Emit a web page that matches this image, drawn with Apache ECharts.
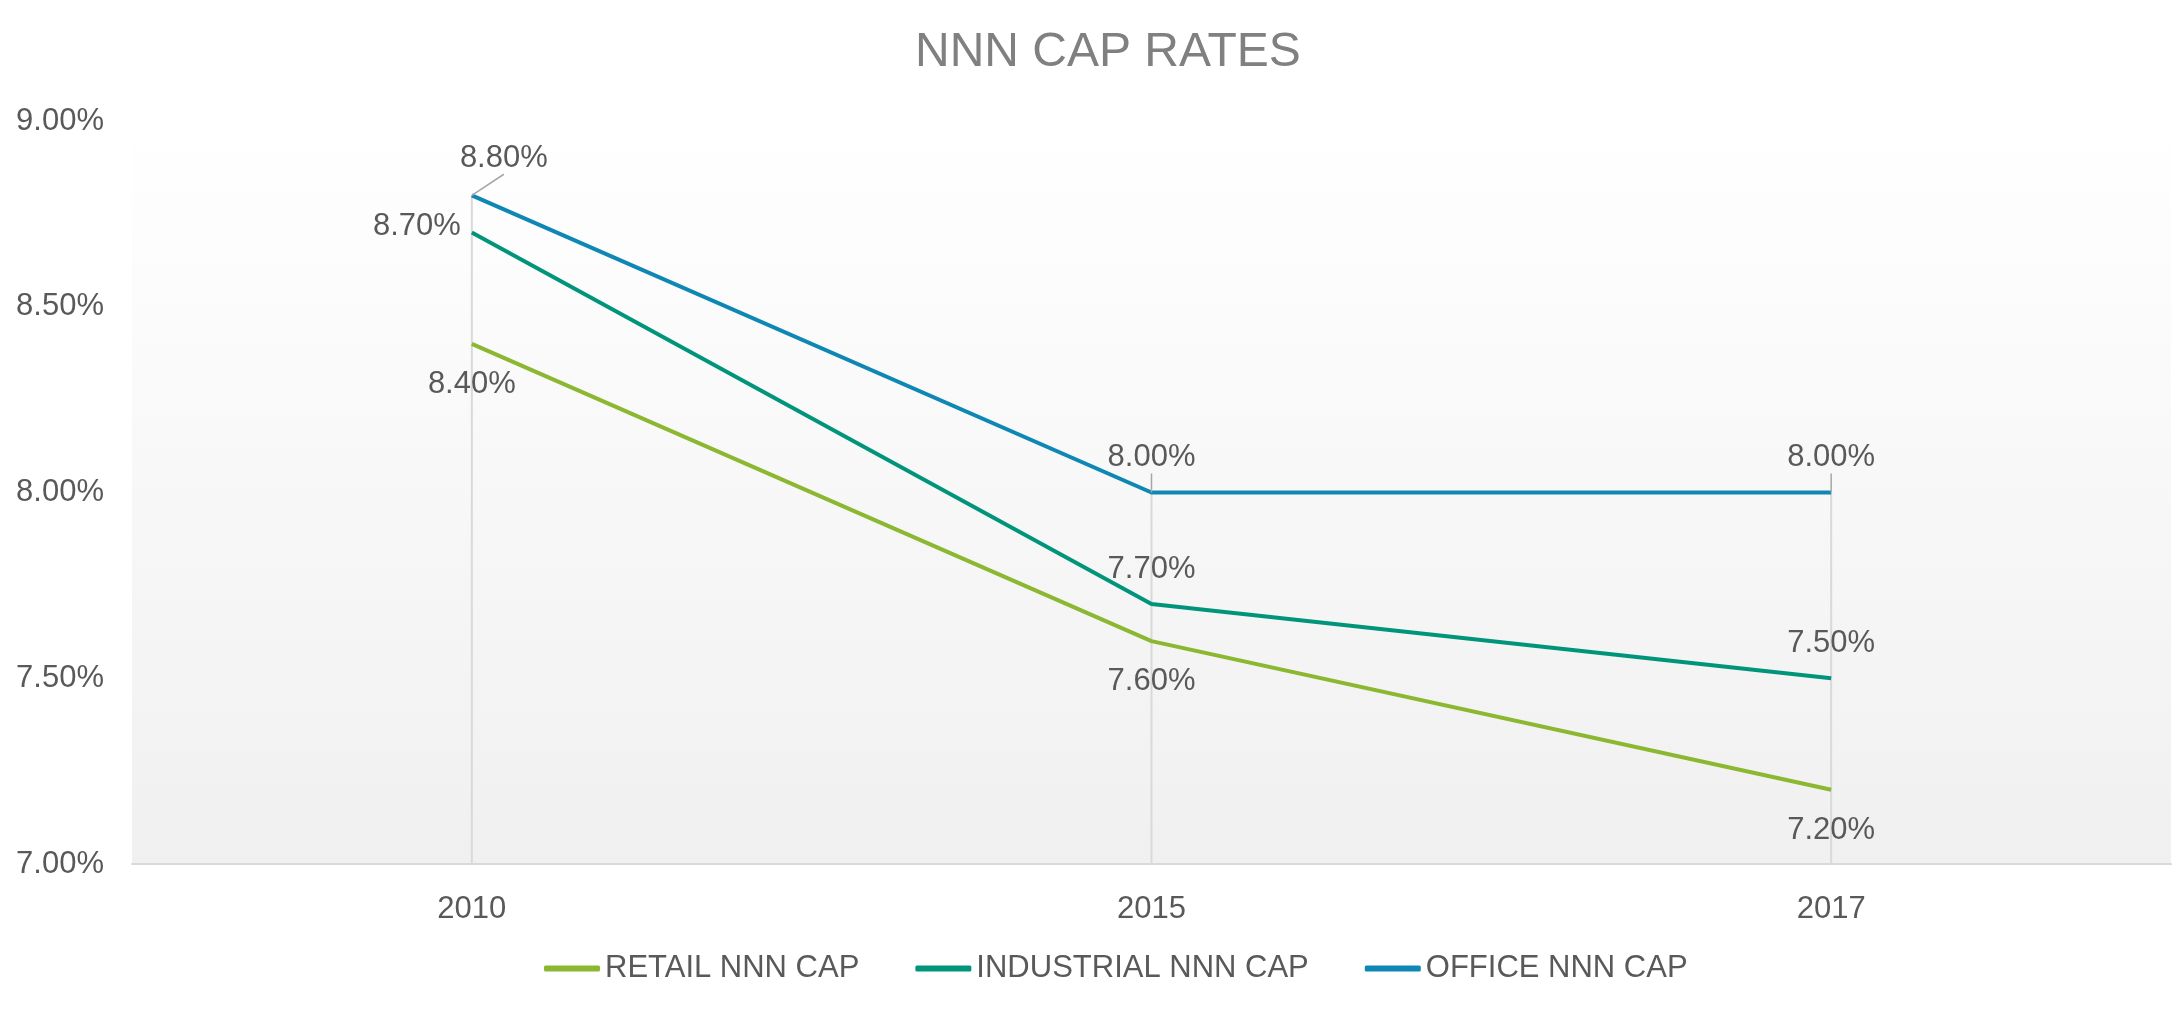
<!DOCTYPE html>
<html>
<head>
<meta charset="utf-8">
<script src="https://cdn.jsdelivr.net/npm/echarts@6/dist/echarts.min.js"></script>
<style>html,body{margin:0;padding:0;background:#fff}#c{width:2178px;height:1010px}</style>
</head>
<body>
<div id="c"></div>
<script>
const categories = ['2010', '2015', '2017'];
const retail = [8.4, 7.6, 7.2];
const industrial = [8.7, 7.7, 7.5];
const office = [8.8, 8.0, 8.0];
const seriesNames = ['RETAIL NNN CAP', 'INDUSTRIAL NNN CAP', 'OFFICE NNN CAP'];
const yTicks = [7.0, 7.5, 8.0, 8.5, 9.0];

const colors = ['#8BB731', '#00957A', '#0F87B5'];
const FONT = 'Liberation Sans';
const LABEL_COLOR = '#595959';
const dropLines = categories.map((_, i) => Math.max(retail[i], industrial[i], office[i]));
const fmt = v => Number(v).toFixed(2) + '%';

const chart = echarts.init(document.getElementById('c'));

function lineSeries(name, data, color, pos, dist, extra) {
  return Object.assign({
    name: name,
    type: 'line',
    data: data,
    z: 3,
    symbol: 'circle',
    symbolSize: 0.1,
    showSymbol: true,
    lineStyle: { color: color, width: 4 },
    itemStyle: { color: color },
    label: {
      show: true, position: pos, distance: dist,
      formatter: p => fmt(p.value),
      fontFamily: FONT, fontSize: 31, color: LABEL_COLOR
    }
  }, extra || {});
}

chart.setOption({
  animation: false,
  backgroundColor: '#ffffff',
  title: {
    text: 'NNN CAP RATES',
    left: 910,
    top: 24,
    textStyle: { fontFamily: FONT, fontSize: 48, fontWeight: 'normal', color: '#808080' }
  },
  legend: {
    data: seriesNames,
    left: 539,
    top: 948,
    icon: 'roundRect',
    itemWidth: 56,
    itemHeight: 6,
    itemGap: 56,
    textStyle: { fontFamily: FONT, fontSize: 31, color: LABEL_COLOR }
  },
  grid: {
    left: 132, right: 7, top: 121, bottom: 146,
    show: true, borderWidth: 0,
    backgroundColor: new echarts.graphic.LinearGradient(0, 0, 0, 1, [
      { offset: 0, color: '#ffffff' },
      { offset: 1, color: '#f0f0f0' }
    ])
  },
  xAxis: {
    type: 'category',
    data: categories,
    boundaryGap: true,
    axisTick: { show: false },
    axisLine: { lineStyle: { color: '#d9d9d9', width: 2 } },
    axisLabel: { margin: 30, fontFamily: FONT, fontSize: 31, color: LABEL_COLOR },
    splitLine: { show: false }
  },
  yAxis: {
    type: 'value',
    min: yTicks[0],
    max: yTicks[yTicks.length - 1],
    interval: 0.5,
    axisLine: { show: false },
    axisTick: { show: false },
    splitLine: { show: false },
    axisLabel: { margin: 28, formatter: fmt, fontFamily: FONT, fontSize: 31, color: LABEL_COLOR }
  },
  series: [
    {
      name: 'drop',
      type: 'bar',
      data: dropLines,
      barWidth: 2,
      silent: true,
      z: 1,
      itemStyle: { color: '#d9d9d9' },
      label: { show: false }
    },
    lineSeries(seriesNames[0], retail, colors[0], 'bottom', 25),
    lineSeries(seriesNames[1], industrial.map((v, i) => i === 0 ? { value: v, label: { position: 'left', distance: 11, offset: [0, -6] } } : v), colors[1], 'top', 19),
    lineSeries(seriesNames[2], office, colors[2], 'top', 19, {
      labelLayout: p => p.dataIndex === 0 ? { dx: 32, dy: -2 } : {},
      labelLine: { show: true, lineStyle: { color: '#a6a6a6', width: 1.5 } }
    })
  ]
});
</script>
</body>
</html>
